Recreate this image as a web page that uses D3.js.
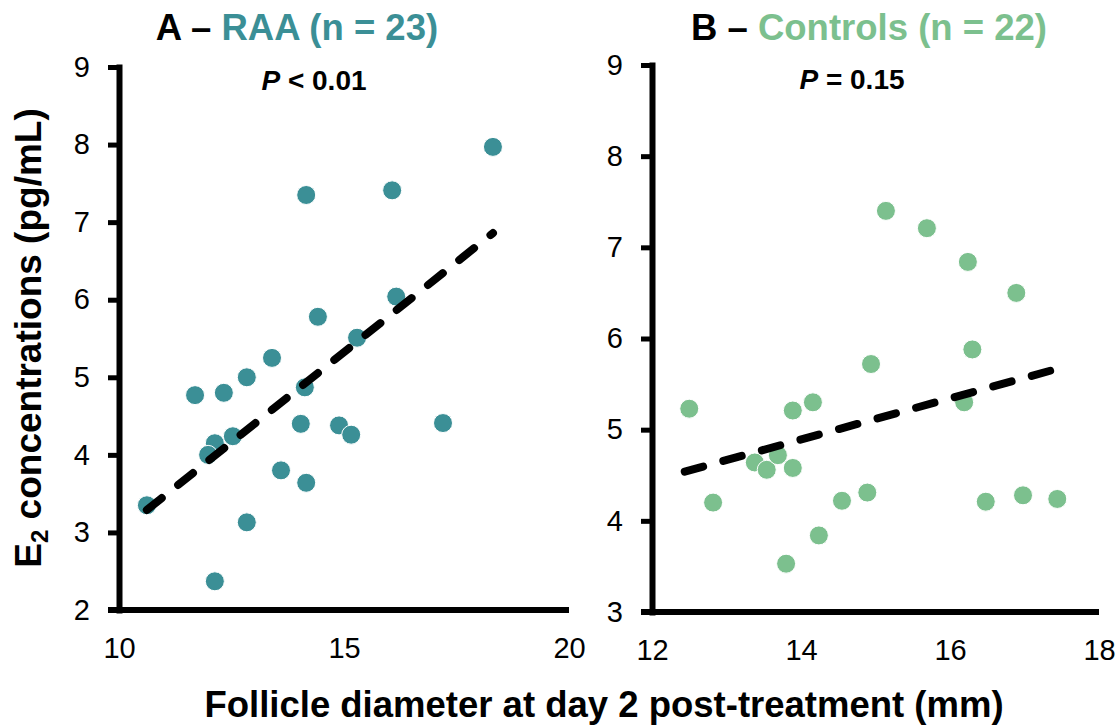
<!DOCTYPE html>
<html>
<head>
<meta charset="utf-8">
<script src="https://cdn.jsdelivr.net/npm/d3@7"></script>
<style>
  html, body { margin: 0; padding: 0; background: #fff; }
  svg { display: block; font-family: "Liberation Sans", Arial, sans-serif; }
</style>
</head>
<body>
<svg id="chart" width="1120" height="725"></svg>
<script>
// ---------- data ----------
const raaDiameter = [18.31,14.16,16.07,16.16,14.42,15.29,13.40,12.84,11.69,12.33,14.13,14.04,14.89,15.16,17.20,12.53,12.13,11.98,13.60,14.16,10.62,12.84,12.13];
const raaE2       = [7.97,7.35,7.41,6.04,5.78,5.51,5.25,5.00,4.77,4.80,4.87,4.40,4.38,4.26,4.41,4.24,4.15,4.00,3.80,3.64,3.35,3.13,2.37];
const ctrlDiameter = [15.14,15.69,16.24,16.89,16.30,12.50,12.82,13.38,13.54,13.69,13.89,13.89,14.16,13.80,14.24,14.55,14.89,14.94,16.19,16.48,16.98,17.44];
const ctrlE2       = [7.40,7.21,6.84,6.50,5.88,5.23,4.20,4.64,4.56,4.72,5.21,4.58,5.30,3.53,3.84,4.22,4.31,5.72,5.30,4.21,4.28,4.24];
const raaTrendX = [10.62, 18.31];
const raaTrendY = [3.29, 6.86];
const ctrlTrendX = [12.44, 17.45];
const ctrlTrendY = [4.54, 5.67];
const raaXTicks = [10, 15, 20];
const raaYTicks = [2, 3, 4, 5, 6, 7, 8, 9];
const ctrlXTicks = [12, 14, 16, 18];
const ctrlYTicks = [3, 4, 5, 6, 7, 8, 9];
const panelLetters = ["A", "B"];
const groupNames = ["RAA (n = 23)", "Controls (n = 22)"];
const pLabels = ["< 0.01", "= 0.15"];
const yAxisTitle = ["E", "2", " concentrations (pg/mL)"];
const xAxisTitle = "Follicle diameter at day 2 post-treatment (mm)";

// ---------- layout ----------
const svg = d3.select("#chart");
const FONT = '"Liberation Sans", Arial, sans-serif';
const fmt = d3.format("d");

const panels = [
  { xs: raaDiameter, ys: raaE2, tx: raaTrendX, ty: raaTrendY,
    xd: [10, 20], yd: [2, 9], xr: [119, 569], yr: [610, 67],
    xt: raaXTicks, yt: raaYTicks, color: "#3b8f96",
    titleX: 297, pX: 314, pY: 90 },
  { xs: ctrlDiameter, ys: ctrlE2, tx: ctrlTrendX, ty: ctrlTrendY,
    xd: [12, 18], yd: [3, 9], xr: [652, 1099], yr: [612, 65],
    xt: ctrlXTicks, yt: ctrlYTicks, color: "#7cc08e",
    titleX: 869, pX: 852, pY: 89 }
];

panels.forEach((p, i) => {
  const x = d3.scaleLinear().domain(p.xd).range(p.xr);
  const y = d3.scaleLinear().domain(p.yd).range(p.yr);
  const g = svg.append("g");

  // x axis (no tick marks)
  const xAxis = g.append("g")
    .attr("transform", `translate(0,${p.yr[0]})`)
    .call(d3.axisBottom(x).tickValues(p.xt).tickFormat(fmt).tickSize(0).tickSizeOuter(0).tickPadding(27));
  xAxis.select(".domain").remove();
  xAxis.selectAll("text").attr("font-size", 29).attr("font-family", FONT).attr("fill", "#000");
  g.append("line")
    .attr("x1", x(p.xd[0]) - 11).attr("x2", x(p.xd[1]))
    .attr("y1", y(p.yd[0])).attr("y2", y(p.yd[0]))
    .attr("stroke", "#000").attr("stroke-width", 6);

  // y axis
  const yAxis = g.append("g")
    .attr("transform", `translate(${p.xr[0]},0)`)
    .call(d3.axisLeft(y).tickValues(p.yt).tickFormat(fmt).tickSize(11).tickSizeOuter(0).tickPadding(18));
  yAxis.select(".domain").attr("stroke", "#000").attr("stroke-width", 6).attr("stroke-linecap", "square");
  yAxis.selectAll(".tick line").attr("stroke", "#000").attr("stroke-width", 5);
  yAxis.selectAll("text").attr("font-size", 29).attr("font-family", FONT).attr("fill", "#000");

  // points
  g.append("g").selectAll("circle")
    .data(p.xs.map((v, k) => [v, p.ys[k]]))
    .join("circle")
    .attr("cx", d => x(d[0])).attr("cy", d => y(d[1]))
    .attr("r", 9.5)
    .attr("fill", p.color)
    .attr("stroke", "#fff").attr("stroke-width", 1);

  // trend line
  const line = d3.line().x(d => x(d[0])).y(d => y(d[1]));
  g.append("path")
    .datum(p.tx.map((v, k) => [v, p.ty[k]]))
    .attr("d", line)
    .attr("fill", "none")
    .attr("stroke", "#000")
    .attr("stroke-width", 8)
    .attr("stroke-dasharray", "19 21")
    .attr("stroke-linecap", "round");

  // title
  const t = svg.append("text")
    .attr("x", p.titleX).attr("y", 40)
    .attr("text-anchor", "middle")
    .attr("font-size", 36.5).attr("font-weight", "bold").attr("font-family", FONT);
  t.append("tspan").attr("fill", "#000").text(panelLetters[i] + " \u2013 ");
  t.append("tspan").attr("fill", p.color).text(groupNames[i]);

  // P value
  const pv = svg.append("text")
    .attr("x", p.pX).attr("y", p.pY)
    .attr("text-anchor", "middle")
    .attr("font-size", 28).attr("font-weight", "bold").attr("font-family", FONT)
    .attr("fill", "#000");
  pv.append("tspan").attr("font-style", "italic").text("P");
  pv.append("tspan").text(" " + pLabels[i]);
});

// y axis title
const yt = svg.append("text")
  .attr("transform", "translate(41,338) rotate(-90)")
  .attr("text-anchor", "middle")
  .attr("font-size", 37).attr("font-weight", "bold").attr("font-family", FONT)
  .attr("fill", "#000");
yt.append("tspan").text(yAxisTitle[0]);
yt.append("tspan").attr("font-size", 24).attr("dy", 7).text(yAxisTitle[1]);
yt.append("tspan").attr("dy", -7).text(yAxisTitle[2]);

// x axis title
svg.append("text")
  .attr("x", 604).attr("y", 717)
  .attr("text-anchor", "middle")
  .attr("font-size", 36.5).attr("font-weight", "bold").attr("font-family", FONT)
  .attr("fill", "#000")
  .text(xAxisTitle);
</script>
</body>
</html>
